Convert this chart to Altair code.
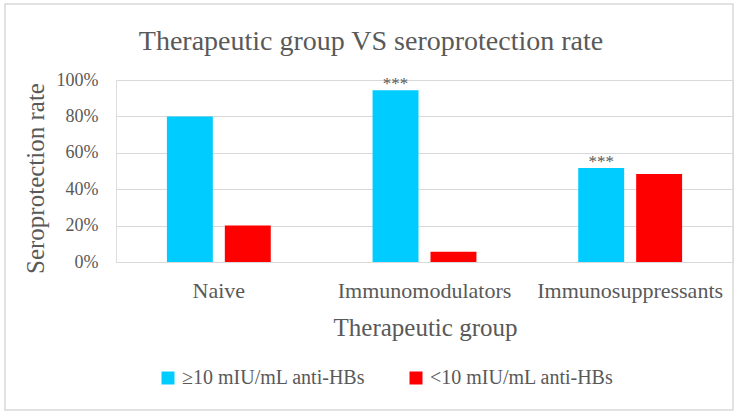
import altair as alt
import pandas as pd

# Seroprotection rate by therapeutic group
groups = ["Naive", "Immunomodulators", "Immunosuppressants"]
series = ["≥10 mIU/mL anti-HBs", "<10 mIU/mL anti-HBs"]
protected = [0.80, 0.944, 0.516]
unprotected = [0.20, 0.056, 0.484]
significance = ["", "***", "***"]
chart_title = "Therapeutic group VS seroprotection rate"
y_ticks = [0, 0.2, 0.4, 0.6, 0.8, 1.0]

colors = ["#00CCFF", "#FF0000"]
grey = "#595959"
font = "Liberation Serif"

rows = []
for g, p, u, s in zip(groups, protected, unprotected, significance):
    rows.append({"group": g, "series": series[0], "rate": p, "mark": s})
    rows.append({"group": g, "series": series[1], "rate": u, "mark": ""})
df = pd.DataFrame(rows)

x_enc = alt.X(
    "group:N",
    sort=groups,
    scale=alt.Scale(paddingInner=0.495, paddingOuter=0.2475),
    axis=alt.Axis(
        title="Therapeutic group",
        labelAngle=0,
        labelFontSize=22,
        labelColor=grey,
        labelPadding=18,
        labelFont=font,
        labelLimit=400,
        labelOverlap=False,
        ticks=False,
        domain=False,
        titleFontSize=25,
        titleColor=grey,
        titleFont=font,
        titleFontWeight="normal",
        titleBaseline="alphabetic",
        titleY=73,
        titleX=309,
        titleAlign="center",
        titleAnchor="middle",
    ),
)
xoff_enc = alt.XOffset(
    "series:N",
    sort=series,
    scale=alt.Scale(paddingInner=0.207, paddingOuter=0),
)
y_enc = alt.Y(
    "rate:Q",
    scale=alt.Scale(domain=[0, 1], nice=False),
    axis=alt.Axis(
        title="Seroprotection rate",
        values=y_ticks,
        format=".0%",
        labelFontSize=18,
        labelColor=grey,
        labelFont=font,
        labelPadding=18,
        labelOverlap=False,
        labelFlush=False,
        labelBound=False,
        ticks=False,
        domain=False,
        grid=True,
        gridColor="#D9D9D9",
        gridWidth=1.2,
        titleFontSize=25,
        titleColor=grey,
        titleFont=font,
        titleFontWeight="normal",
        titleAngle=-90,
        titleBaseline="alphabetic",
        titleAlign="center",
        titleX=-73,
        titleY=98,
    ),
)

base = alt.Chart(df)

bars = base.mark_bar().encode(
    x=x_enc,
    xOffset=xoff_enc,
    y=y_enc,
    color=alt.Color(
        "series:N",
        sort=series,
        scale=alt.Scale(domain=series, range=colors),
        legend=alt.Legend(
            title=None,
            orient="none",
            direction="horizontal",
            legendX=42,
            legendY=288,
            symbolType="square",
            symbolSize=169,
            symbolStrokeWidth=0,
            symbolOpacity=1,
            labelFontSize=20,
            labelColor=grey,
            labelFont=font,
            labelOffset=4,
            labelLimit=400,
            columnPadding=40,
            padding=0,
        ),
    ),
)

stars = base.mark_text(
    baseline="alphabetic", fontSize=17, color=grey, font=font, dy=-1
).encode(
    x=x_enc,
    xOffset=xoff_enc,
    y=y_enc,
    text="mark:N",
)

# chart heading, centred over the whole figure
heading = alt.Chart(pd.DataFrame({"t": [chart_title]})).mark_text(
    fontSize=28, color=grey, font=font, align="center", baseline="alphabetic"
).encode(
    x=alt.value(371 - 116),
    y=alt.value(50 - 80),
    text="t:N",
)

# light outer frame around the figure
frame = alt.Chart(pd.DataFrame({"f": [0]})).mark_rect(
    fill="transparent", stroke="#D9D9D9", strokeWidth=1.5
).encode(
    x=alt.value(5 - 116),
    x2=alt.value(733 - 116),
    y=alt.value(4 - 80),
    y2=alt.value(410 - 80),
)

chart = (
    alt.layer(frame, heading, bars, stars)
    .properties(
        width=617,
        height=182,
        autosize=alt.AutoSizeParams(type="none"),
        padding={"left": 116, "top": 80, "right": 7, "bottom": 154},
        background="white",
    )
    .configure_view(stroke=None)
    .configure(font=font)
)

chart.save("out.html", embed_options={"renderer": "svg", "actions": False})
